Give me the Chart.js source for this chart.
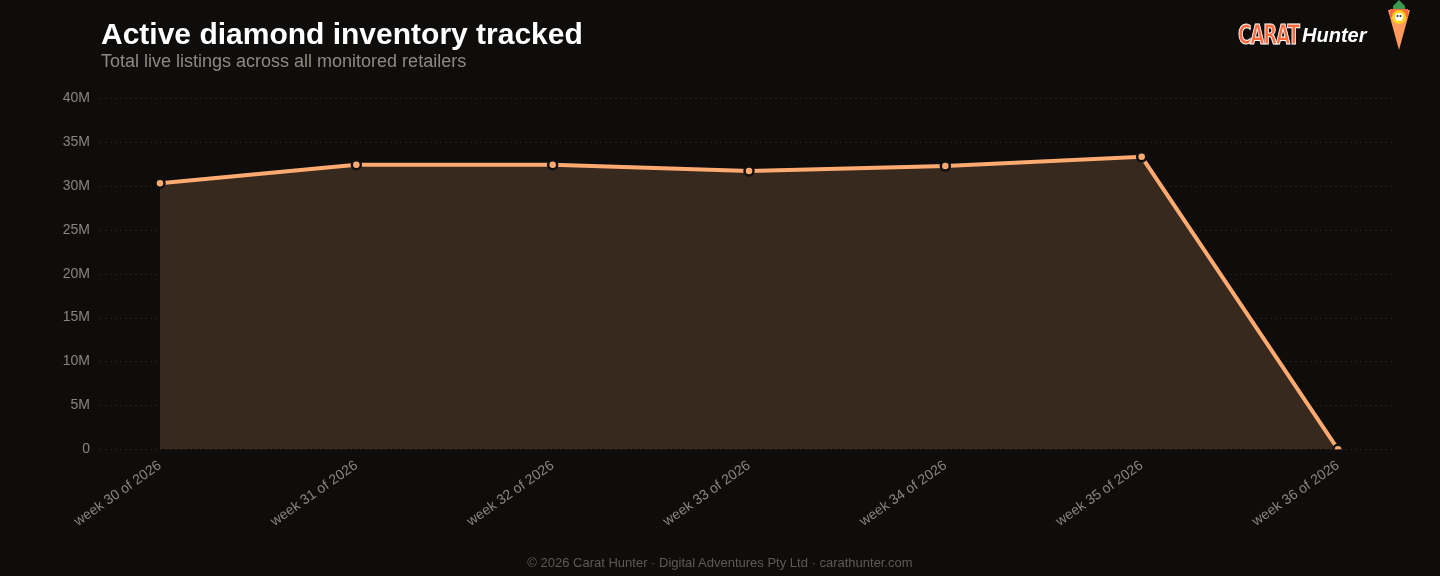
<!DOCTYPE html>
<html><head><meta charset="utf-8">
<script src="https://cdn.jsdelivr.net/npm/chart.js@4"></script>
<style>
html,body{margin:0;padding:0;background:#0e0d0c;width:1440px;height:576px;overflow:hidden;font-family:"Liberation Sans",Arial,sans-serif}
#t{position:absolute;left:101px;top:17px;color:#fff;font-size:30px;font-weight:bold}
#s{position:absolute;left:101px;top:51px;color:#8e8982;font-size:18px}
#f{position:absolute;left:0;width:1440px;top:555px;text-align:center;color:#5e5a56;font-size:13px}
#logo{position:absolute;left:1238px;top:20px;display:flex;align-items:center}
#c1{font-family:"Liberation Sans Narrow","DejaVu Sans Condensed",sans-serif;font-weight:bold;font-size:26px;color:#ff6a3d;-webkit-text-stroke:1px #fff;letter-spacing:-1.5px;display:inline-block;transform:scaleX(0.78);transform-origin:left;width:64px}
#c2{color:#fff;font-style:italic;font-weight:bold;font-size:20px}
#wrap{position:absolute;left:0;top:0;width:1440px;height:576px}
</style></head><body>
<div id="wrap"><canvas id="c"></canvas></div>
<div id="t">Active diamond inventory tracked</div>
<div id="s">Total live listings across all monitored retailers</div>
<div id="logo"><span id="c1">CARAT</span><span id="c2">Hunter</span></div>
<svg style="position:absolute;left:1384px;top:0" width="30" height="52" viewBox="0 0 30 52">
<path d="M9 6 L15 0 L21 6 L21 10 L9 10Z" fill="#3b9a4f"/>
<path d="M4 10 L26 10 L15 50Z" fill="#ff9a5c"/>
<rect x="6" y="9" width="18" height="8" fill="#ff6a3d"/>
<circle cx="15" cy="17" r="7" fill="#ffd21f"/>
<circle cx="15" cy="17" r="4" fill="#fff"/>
<circle cx="13.5" cy="16" r="1" fill="#222"/><circle cx="16.5" cy="16" r="1" fill="#222"/>
</svg>
<div id="f">© 2026 Carat Hunter · Digital Adventures Pty Ltd · carathunter.com</div>
<script>
const categories=["week 30 of 2026","week 31 of 2026","week 32 of 2026","week 33 of 2026","week 34 of 2026","week 35 of 2026","week 36 of 2026"];
const listings=[30300000,32400000,32400000,31700000,32250000,33300000,0];
const yTicks=[0,5e6,10e6,15e6,20e6,25e6,30e6,35e6,40e6];
const gridPlugin={id:'g',beforeDatasetsDraw(ch){const y=ch.scales.y,c=ch.ctx;c.save();c.strokeStyle='#232120';c.lineWidth=1;c.setLineDash([2,3]);
for(const v of yTicks){const p=Math.round(y.getPixelForValue(v))+0.5;c.beginPath();c.moveTo(100,p);c.lineTo(1395,p);c.stroke();}c.restore();}};
new Chart(document.getElementById('c'),{type:'line',
data:{labels:categories,datasets:[{data:listings,borderColor:'#ffaa70',borderWidth:4,fill:true,backgroundColor:'#38291f',
pointRadius:4.5,pointBackgroundColor:'#ffaa70',pointBorderColor:'#111',pointBorderWidth:2.5,tension:0}]},
plugins:[gridPlugin],
options:{responsive:true,maintainAspectRatio:false,animation:false,
layout:{padding:{top:98,right:102,bottom:46,left:0}},
plugins:{legend:{display:false},tooltip:{enabled:false}},
scales:{
x:{offset:false,grid:{display:false},border:{display:false},ticks:{color:'#8a8580',font:{size:14,family:'Liberation Sans'},minRotation:35,maxRotation:35,padding:0}},
y:{min:0,max:40e6,afterFit(s){s.width=160;},grid:{display:false},border:{display:false},
afterBuildTicks(s){s.ticks=yTicks.map(v=>({value:v}));},
ticks:{color:'#8a8580',padding:62,font:{size:14,family:'Liberation Sans'},callback:v=>v===0?'0':(v/1e6)+'M'}}}}});
</script></body></html>
